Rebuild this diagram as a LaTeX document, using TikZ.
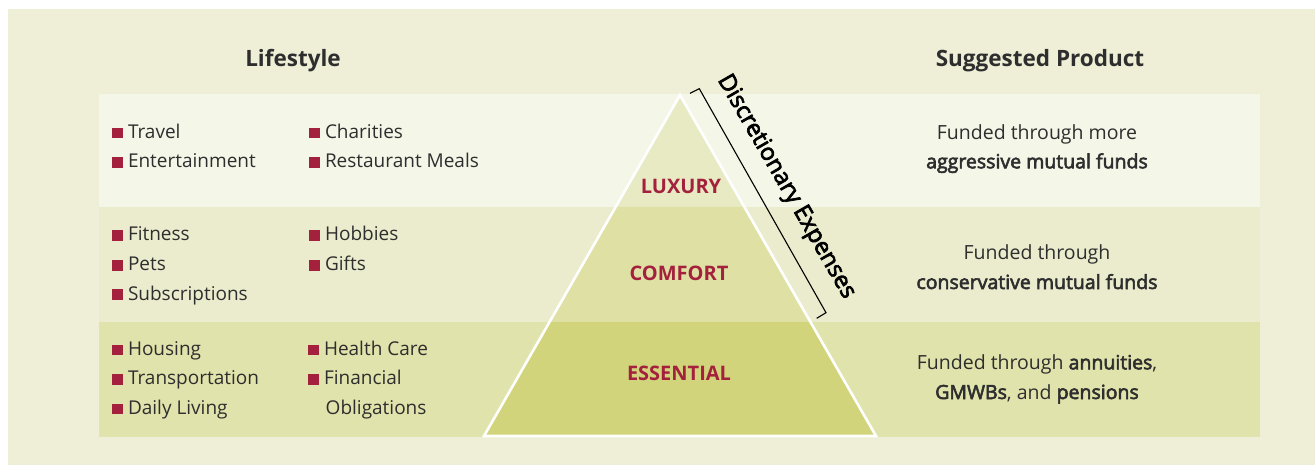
\documentclass[tikz,border=0pt]{standalone}
\usepackage{fontspec}
\setmainfont{Open Sans}
\newfontfamily\medf{Open Sans}[RawFeature={embolden=3}]
\usetikzlibrary{calc}
\definecolor{panel}{HTML}{EFEFD7}
\definecolor{bandA}{HTML}{F4F6E8}
\definecolor{bandB}{HTML}{EBECCD}
\definecolor{bandC}{HTML}{E0E3AB}
\definecolor{triA}{HTML}{E8EAC3}
\definecolor{triB}{HTML}{DEE0A4}
\definecolor{triC}{HTML}{D1D47B}
\definecolor{accent}{HTML}{A4213D}
\definecolor{ink}{HTML}{2E2E2E}
\newcommand{\bul}{\textcolor{accent}{\rule{10.8pt}{10.5pt}}\hspace{5pt}}
\newcommand{\medtxt}[1]{{\medf #1}}
\begin{document}
\begin{tikzpicture}[x=1pt,y=-1pt,
  item/.style={anchor=base west,inner sep=0pt,text=ink,font=\fontsize{19}{22}\selectfont},
  prod/.style={anchor=base,inner sep=0pt,text=ink,font=\fontsize{19.5}{22}\selectfont},
  head/.style={anchor=base,inner sep=0pt,text=ink,font=\fontsize{22.5}{25}\selectfont\bfseries},
  level/.style={anchor=base,inner sep=0pt,text=accent,font=\fontsize{20}{22}\selectfont\bfseries},
  bracket/.style={draw=black,line width=1.1pt,line join=miter}]
\useasboundingbox (0,0) rectangle (1315,465);
\fill[panel] (8,9) rectangle (1315,465);
\fill[bandA] (99,94) rectangle (1260,207);
\fill[bandB] (99,207) rectangle (1260,322);
\fill[bandC] (99,322) rectangle (1260,437);
% pyramid
\coordinate (A) at (680,95);
\coordinate (BL) at (484,436);
\coordinate (BR) at (876,436);
\coordinate (L1) at ($(A)!0.3284!(BL)$);
\coordinate (R1) at ($(A)!0.3284!(BR)$);
\coordinate (L2) at ($(A)!0.6657!(BL)$);
\coordinate (R2) at ($(A)!0.6657!(BR)$);
\fill[triA] (A) -- (R1) -- (L1) -- cycle;
\fill[triB] (L1) -- (R1) -- (R2) -- (L2) -- cycle;
\fill[triC] (L2) -- (R2) -- (BR) -- (BL) -- cycle;
\draw[white,line width=2.6pt,line join=miter] (A) -- (BR) -- (BL) -- cycle;
\node[level] (lux) at (681,193.3) {LUXURY};
\node[level] (com) at (679,280) {COMFORT};
\node[level] (ess) at (679,380) {ESSENTIAL};
% bracket
\coordinate (b1) at (690,93.3);
\coordinate (b2) at (699.3,88.7);
\coordinate (b3) at (826,312.7);
\coordinate (b4) at (816.7,318.3);
\draw[bracket] (b1) -- (b2) -- (b3) -- (b4);
\node[rotate=-60,inner sep=0pt,text=black,font=\fontsize{23.5}{26}\selectfont\medf] (disc) at (786,187) {Discretionary Expenses};
% headers
\node[head] (h1) at (293,66.5) {Lifestyle};
\node[head] (h2) at (1040,66.5) {Suggested Product};
% luxury items
\node[item] (i1) at (112,138.3) {\bul Travel};
\node[item] (i2) at (112,167.8) {\bul Entertainment};
\node[item] (i3) at (309,138.3) {\bul Charities};
\node[item] (i4) at (309,167.8) {\bul Restaurant Meals};
% comfort items
\node[item] (i5) at (112,241) {\bul Fitness};
\node[item] (i6) at (112,270.7) {\bul Pets};
\node[item] (i7) at (112,300) {\bul Subscriptions};
\node[item] (i8) at (309,241) {\bul Hobbies};
\node[item] (i9) at (309,270.7) {\bul Gifts};
% essential items
\node[item] (i10) at (112,355) {\bul Housing};
\node[item] (i11) at (112,384.8) {\bul Transportation};
\node[item] (i12) at (112,414.3) {\bul Daily Living};
\node[item] (i13) at (308,355) {\bul Health Care};
\node[item] (i14) at (308,384.8) {\bul Financial};
\node[item] (i15) at (325.5,414.3) {Obligations};
% products
\node[prod] (p1) at (1037,139.3) {Funded through more};
\node[prod] (p2) at (1037,168.3) {\medtxt{aggressive mutual funds}};
\node[prod] (p3) at (1037,259.3) {Funded through};
\node[prod] (p4) at (1037,289) {\medtxt{conservative mutual funds}};
\node[prod] (p5) at (1037,369.3) {Funded through \medtxt{annuities},};
\node[prod] (p6) at (1037,399) {\medtxt{GMWBs}, and \medtxt{pensions}};
\end{tikzpicture}
\end{document}
